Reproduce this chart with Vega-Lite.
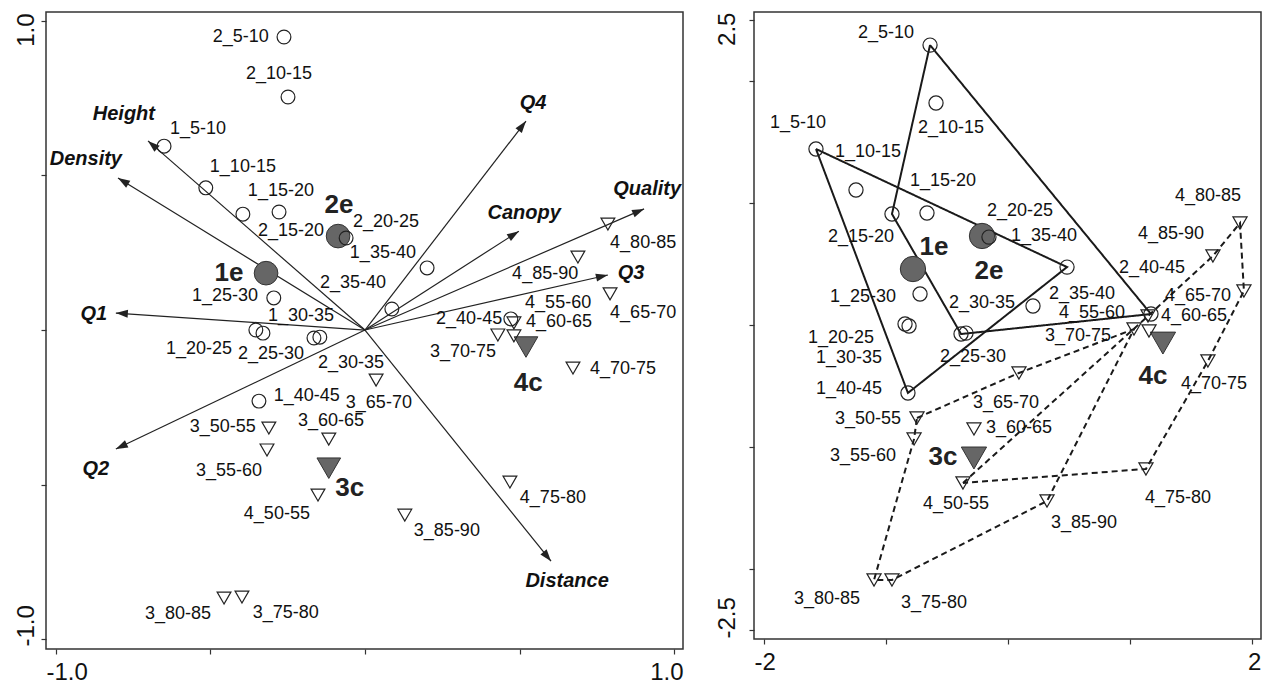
{
  "$schema": "https://vega.github.io/schema/vega-lite/v6.json",
  "background": "white",
  "padding": {"left": 13, "top": 11, "right": 2, "bottom": 2},
  "bounds": "flush",
  "spacing": 71,
  "config": {
    "font": "Liberation Sans",
    "view": {"stroke": "#333", "strokeWidth": 1.5},
    "axis": {"grid": false, "domain": false, "tickColor": "#333", "tickSize": 5, "tickWidth": 1.2, "labelColor": "#111", "labelFontSize": 24, "labelFont": "Liberation Sans"}
  },
  "datasets": {
    "arrows": [
      {"var": "Height", "x": -0.702, "y": 0.612, "lx": -0.780, "ly": 0.699},
      {"var": "Density", "x": -0.799, "y": 0.492, "lx": -0.903, "ly": 0.553},
      {"var": "Q1", "x": -0.806, "y": 0.055, "lx": -0.877, "ly": 0.052},
      {"var": "Q2", "x": -0.806, "y": -0.385, "lx": -0.871, "ly": -0.450},
      {"var": "Q4", "x": 0.521, "y": 0.676, "lx": 0.544, "ly": 0.735},
      {"var": "Canopy", "x": 0.498, "y": 0.320, "lx": 0.515, "ly": 0.379},
      {"var": "Quality", "x": 0.903, "y": 0.392, "lx": 0.913, "ly": 0.456},
      {"var": "Q3", "x": 0.786, "y": 0.178, "lx": 0.861, "ly": 0.184},
      {"var": "Distance", "x": 0.602, "y": -0.748, "lx": 0.654, "ly": -0.812}
    ],
    "lpts": [
      {"name": "2_5-10", "zone": "e", "x": -0.262, "y": 0.948, "lx": -0.402, "ly": 0.948},
      {"name": "2_10-15", "zone": "e", "x": -0.249, "y": 0.754, "lx": -0.278, "ly": 0.828},
      {"name": "1_5-10", "zone": "e", "x": -0.650, "y": 0.595, "lx": -0.540, "ly": 0.650},
      {"name": "1_10-15", "zone": "e", "x": -0.515, "y": 0.460, "lx": -0.395, "ly": 0.528},
      {"name": "2_15-20", "zone": "e", "x": -0.395, "y": 0.375, "lx": -0.239, "ly": 0.320},
      {"name": "1_15-20", "zone": "e", "x": -0.278, "y": 0.382, "lx": -0.272, "ly": 0.450},
      {"name": "2_20-25", "zone": "e", "x": -0.061, "y": 0.298, "lx": 0.068, "ly": 0.350},
      {"name": "1_35-40", "zone": "e", "x": 0.201, "y": 0.201, "lx": 0.058, "ly": 0.249},
      {"name": "2_35-40", "zone": "e", "x": 0.087, "y": 0.068, "lx": -0.039, "ly": 0.152},
      {"name": "1_25-30", "zone": "e", "x": -0.295, "y": 0.104, "lx": -0.453, "ly": 0.110},
      {"name": "1_20-25", "zone": "e", "x": -0.353, "y": 0.000, "lx": -0.537, "ly": -0.061},
      {"name": "1_30-35", "zone": "e", "x": -0.330, "y": -0.010, "lx": -0.207, "ly": 0.045},
      {"name": "2_25-30", "zone": "e", "x": -0.165, "y": -0.026, "lx": -0.304, "ly": -0.078},
      {"name": "2_30-35", "zone": "e", "x": -0.146, "y": -0.023, "lx": -0.045, "ly": -0.107},
      {"name": "1_40-45", "zone": "e", "x": -0.343, "y": -0.230, "lx": -0.188, "ly": -0.214},
      {"name": "2_40-45", "zone": "e", "x": 0.472, "y": 0.036, "lx": 0.337, "ly": 0.036},
      {"name": "3_50-55", "zone": "c", "x": -0.311, "y": -0.317, "lx": -0.460, "ly": -0.314},
      {"name": "3_55-60", "zone": "c", "x": -0.317, "y": -0.388, "lx": -0.440, "ly": -0.456},
      {"name": "3_60-65", "zone": "c", "x": -0.117, "y": -0.353, "lx": -0.110, "ly": -0.295},
      {"name": "3_65-70", "zone": "c", "x": 0.036, "y": -0.162, "lx": 0.045, "ly": -0.236},
      {"name": "3_70-75", "zone": "c", "x": 0.430, "y": -0.016, "lx": 0.317, "ly": -0.071},
      {"name": "3_75-80", "zone": "c", "x": -0.398, "y": -0.864, "lx": -0.256, "ly": -0.916},
      {"name": "3_80-85", "zone": "c", "x": -0.456, "y": -0.867, "lx": -0.605, "ly": -0.919},
      {"name": "3_85-90", "zone": "c", "x": 0.129, "y": -0.599, "lx": 0.265, "ly": -0.650},
      {"name": "4_50-55", "zone": "c", "x": -0.152, "y": -0.534, "lx": -0.285, "ly": -0.595},
      {"name": "4_55-60", "zone": "c", "x": 0.482, "y": 0.023, "lx": 0.625, "ly": 0.087},
      {"name": "4_60-65", "zone": "c", "x": 0.482, "y": -0.019, "lx": 0.628, "ly": 0.026},
      {"name": "4_65-70", "zone": "c", "x": 0.793, "y": 0.117, "lx": 0.900, "ly": 0.055},
      {"name": "4_70-75", "zone": "c", "x": 0.673, "y": -0.123, "lx": 0.835, "ly": -0.126},
      {"name": "4_75-80", "zone": "c", "x": 0.469, "y": -0.492, "lx": 0.608, "ly": -0.544},
      {"name": "4_80-85", "zone": "c", "x": 0.786, "y": 0.343, "lx": 0.900, "ly": 0.282},
      {"name": "4_85-90", "zone": "c", "x": 0.689, "y": 0.236, "lx": 0.583, "ly": 0.181}
    ],
    "lcent": [
      {"name": "1e", "zone": "e", "x": -0.320, "y": 0.184, "lx": -0.440, "ly": 0.184},
      {"name": "2e", "zone": "e", "x": -0.087, "y": 0.304, "lx": -0.084, "ly": 0.405},
      {"name": "3c", "zone": "c", "x": -0.117, "y": -0.447, "lx": -0.049, "ly": -0.511},
      {"name": "4c", "zone": "c", "x": 0.521, "y": -0.055, "lx": 0.528, "ly": -0.172}
    ],
    "rpts": [
      {"name": "1_5-10", "zone": "e", "x": -1.574, "y": 1.443, "lx": -1.721, "ly": 1.656},
      {"name": "1_10-15", "zone": "e", "x": -1.246, "y": 1.107, "lx": -1.148, "ly": 1.418},
      {"name": "1_15-20", "zone": "e", "x": -0.664, "y": 0.918, "lx": -0.533, "ly": 1.180},
      {"name": "1_20-25", "zone": "e", "x": -0.844, "y": 0.008, "lx": -1.369, "ly": -0.107},
      {"name": "1_25-30", "zone": "e", "x": -0.721, "y": 0.254, "lx": -1.189, "ly": 0.230},
      {"name": "1_30-35", "zone": "e", "x": -0.811, "y": -0.008, "lx": -1.303, "ly": -0.270},
      {"name": "1_35-40", "zone": "e", "x": 0.484, "y": 0.475, "lx": 0.295, "ly": 0.730},
      {"name": "1_40-45", "zone": "e", "x": -0.820, "y": -0.557, "lx": -1.303, "ly": -0.525},
      {"name": "2_5-10", "zone": "e", "x": -0.639, "y": 2.295, "lx": -1.000, "ly": 2.393},
      {"name": "2_10-15", "zone": "e", "x": -0.590, "y": 1.820, "lx": -0.467, "ly": 1.615},
      {"name": "2_15-20", "zone": "e", "x": -0.951, "y": 0.910, "lx": -1.205, "ly": 0.721},
      {"name": "2_20-25", "zone": "e", "x": -0.156, "y": 0.721, "lx": 0.098, "ly": 0.934},
      {"name": "2_25-30", "zone": "e", "x": -0.385, "y": -0.074, "lx": -0.287, "ly": -0.262},
      {"name": "2_30-35", "zone": "e", "x": -0.344, "y": -0.066, "lx": -0.213, "ly": 0.180},
      {"name": "2_35-40", "zone": "e", "x": 0.205, "y": 0.156, "lx": 0.607, "ly": 0.254},
      {"name": "2_40-45", "zone": "e", "x": 1.172, "y": 0.090, "lx": 1.180, "ly": 0.467},
      {"name": "3_50-55", "zone": "c", "x": -0.746, "y": -0.762, "lx": -1.148, "ly": -0.770},
      {"name": "3_55-60", "zone": "c", "x": -0.770, "y": -0.934, "lx": -1.189, "ly": -1.074},
      {"name": "3_60-65", "zone": "c", "x": -0.279, "y": -0.852, "lx": 0.090, "ly": -0.844},
      {"name": "3_65-70", "zone": "c", "x": 0.090, "y": -0.393, "lx": -0.016, "ly": -0.639},
      {"name": "3_70-75", "zone": "c", "x": 1.033, "y": -0.033, "lx": 0.574, "ly": -0.090},
      {"name": "3_75-80", "zone": "c", "x": -0.951, "y": -2.090, "lx": -0.607, "ly": -2.279},
      {"name": "3_80-85", "zone": "c", "x": -1.098, "y": -2.090, "lx": -1.484, "ly": -2.246},
      {"name": "3_85-90", "zone": "c", "x": 0.320, "y": -1.443, "lx": 0.623, "ly": -1.623},
      {"name": "4_50-55", "zone": "c", "x": -0.369, "y": -1.295, "lx": -0.426, "ly": -1.467},
      {"name": "4_55-60", "zone": "c", "x": 1.156, "y": -0.049, "lx": 0.689, "ly": 0.098},
      {"name": "4_60-65", "zone": "c", "x": 1.148, "y": 0.074, "lx": 1.525, "ly": 0.074},
      {"name": "4_65-70", "zone": "c", "x": 1.934, "y": 0.279, "lx": 1.557, "ly": 0.238},
      {"name": "4_70-75", "zone": "c", "x": 1.639, "y": -0.295, "lx": 1.689, "ly": -0.484},
      {"name": "4_75-80", "zone": "c", "x": 1.131, "y": -1.180, "lx": 1.393, "ly": -1.418},
      {"name": "4_80-85", "zone": "c", "x": 1.902, "y": 0.836, "lx": 1.639, "ly": 1.057},
      {"name": "4_85-90", "zone": "c", "x": 1.680, "y": 0.566, "lx": 1.336, "ly": 0.746}
    ],
    "rcent": [
      {"name": "1e", "zone": "e", "x": -0.779, "y": 0.459, "lx": -0.607, "ly": 0.639},
      {"name": "2e", "zone": "e", "x": -0.213, "y": 0.730, "lx": -0.156, "ly": 0.443},
      {"name": "3c", "zone": "c", "x": -0.279, "y": -1.090, "lx": -0.533, "ly": -1.082},
      {"name": "4c", "zone": "c", "x": 1.270, "y": -0.148, "lx": 1.189, "ly": -0.418}
    ],
    "hulls": [
      {"hull": "1", "zone": "e", "k": 0, "name": "1_5-10"},
      {"hull": "1", "zone": "e", "k": 1, "name": "1_35-40"},
      {"hull": "1", "zone": "e", "k": 2, "name": "1_40-45"},
      {"hull": "1", "zone": "e", "k": 3, "name": "1_5-10"},
      {"hull": "2", "zone": "e", "k": 0, "name": "2_5-10"},
      {"hull": "2", "zone": "e", "k": 1, "name": "2_40-45"},
      {"hull": "2", "zone": "e", "k": 2, "name": "2_25-30"},
      {"hull": "2", "zone": "e", "k": 3, "name": "2_15-20"},
      {"hull": "2", "zone": "e", "k": 4, "name": "2_5-10"},
      {"hull": "3", "zone": "c", "k": 0, "name": "3_50-55"},
      {"hull": "3", "zone": "c", "k": 1, "name": "3_65-70"},
      {"hull": "3", "zone": "c", "k": 2, "name": "3_70-75"},
      {"hull": "3", "zone": "c", "k": 3, "name": "3_85-90"},
      {"hull": "3", "zone": "c", "k": 4, "name": "3_75-80"},
      {"hull": "3", "zone": "c", "k": 5, "name": "3_80-85"},
      {"hull": "3", "zone": "c", "k": 6, "name": "3_55-60"},
      {"hull": "3", "zone": "c", "k": 7, "name": "3_50-55"},
      {"hull": "4", "zone": "c", "k": 0, "name": "4_50-55"},
      {"hull": "4", "zone": "c", "k": 1, "name": "4_60-65"},
      {"hull": "4", "zone": "c", "k": 2, "name": "4_85-90"},
      {"hull": "4", "zone": "c", "k": 3, "name": "4_80-85"},
      {"hull": "4", "zone": "c", "k": 4, "name": "4_65-70"},
      {"hull": "4", "zone": "c", "k": 5, "name": "4_70-75"},
      {"hull": "4", "zone": "c", "k": 6, "name": "4_75-80"},
      {"hull": "4", "zone": "c", "k": 7, "name": "4_50-55"}
    ]
  },
  "hconcat": [
    {
      "width": 637,
      "height": 637,
      "layer": [
        {
          "mark": {"type": "rule", "stroke": "#888", "strokeWidth": 0.8, "strokeDash": [2, 2]},
          "encoding": {
            "x": {"datum": 0, "type": "quantitative", "scale": {"domain": [-1.032, 1.029], "nice": false, "zero": false},
              "axis": {"title": null, "values": [-1, -0.5, 0, 0.5, 1], "labelExpr": "datum.value == -1 ? '-1.0' : datum.value == 1 ? '1.0' : ''", "labelFlush": false, "labelAlign": {"condition": {"test": "datum.value < 0", "value": "left"}, "value": "right"}, "labelOffset": {"condition": {"test": "datum.value < 0", "value": -10}, "value": 9}, "labelPadding": 6}}
          }
        },
        {
          "mark": {"type": "rule", "stroke": "#888", "strokeWidth": 0.8, "strokeDash": [2, 2]},
          "encoding": {
            "y": {"datum": 0, "type": "quantitative", "scale": {"domain": [-1.032, 1.029], "nice": false, "zero": false},
              "axis": {"title": null, "values": [-1, -0.5, 0, 0.5, 1], "labelExpr": "datum.value == -1 ? '-1.0' : datum.value == 1 ? '1.0' : ''", "labelAngle": -90, "labelBaseline": "bottom", "labelAlign": {"condition": {"test": "datum.value > 0", "value": "right"}, "value": "left"}, "labelOffset": {"condition": {"test": "datum.value > 0", "value": -8}, "value": 7}, "labelPadding": 3}}
          }
        },
        {
          "data": {"name": "arrows"},
          "mark": {"type": "rule", "stroke": "#222", "strokeWidth": 1.2},
          "encoding": {
            "x": {"field": "x", "type": "quantitative", "axis": {"title": null}},
            "y": {"field": "y", "type": "quantitative", "axis": {"title": null}},
            "x2": {"datum": 0},
            "y2": {"datum": 0}
          }
        },
        {
          "data": {"name": "arrows"},
          "transform": [{"calculate": "atan2(datum.x, datum.y) * 180 / PI", "as": "ang"}],
          "mark": {"type": "point", "shape": "M0,0L-0.5,1.5L0.5,1.5Z", "filled": true, "color": "#222", "size": 256, "opacity": 1},
          "encoding": {
            "x": {"field": "x", "type": "quantitative", "axis": {"title": null}},
            "y": {"field": "y", "type": "quantitative", "axis": {"title": null}},
            "angle": {"field": "ang", "type": "quantitative", "scale": null}
          }
        },
        {
          "data": {"name": "arrows"},
          "mark": {"type": "text", "fontSize": 20, "fontWeight": "bold", "fontStyle": "italic", "color": "#111", "align": "center", "baseline": "middle"},
          "encoding": {
            "x": {"field": "lx", "type": "quantitative", "axis": {"title": null}},
            "y": {"field": "ly", "type": "quantitative", "axis": {"title": null}},
            "text": {"field": "var"}
          }
        },
        {
          "data": {"name": "lcent"},
          "mark": {"type": "point", "filled": true, "fill": "#666", "stroke": "#333", "strokeWidth": 1, "size": 560, "opacity": 1},
          "encoding": {
            "x": {"field": "x", "type": "quantitative", "axis": {"title": null}},
            "y": {"field": "y", "type": "quantitative", "axis": {"title": null}},
            "shape": {"field": "zone", "type": "nominal", "scale": {"domain": ["e", "c"], "range": ["circle", "triangle-down"]}, "legend": null}
          }
        },
        {
          "data": {"name": "lpts"},
          "mark": {"type": "point", "filled": false, "stroke": "#222", "strokeWidth": 1.2, "size": 190, "opacity": 1},
          "encoding": {
            "x": {"field": "x", "type": "quantitative", "axis": {"title": null}},
            "y": {"field": "y", "type": "quantitative", "axis": {"title": null}},
            "shape": {"field": "zone", "type": "nominal", "scale": {"domain": ["e", "c"], "range": ["circle", "triangle-down"]}, "legend": null}
          }
        },
        {
          "data": {"name": "lpts"},
          "mark": {"type": "text", "fontSize": 18, "color": "#111", "align": "center", "baseline": "middle"},
          "encoding": {
            "x": {"field": "lx", "type": "quantitative", "axis": {"title": null}},
            "y": {"field": "ly", "type": "quantitative", "axis": {"title": null}},
            "text": {"field": "name"}
          }
        },
        {
          "data": {"name": "lcent"},
          "mark": {"type": "text", "fontSize": 26, "fontWeight": "bold", "color": "#222", "align": "center", "baseline": "middle"},
          "encoding": {
            "x": {"field": "lx", "type": "quantitative", "axis": {"title": null}},
            "y": {"field": "ly", "type": "quantitative", "axis": {"title": null}},
            "text": {"field": "name"}
          }
        }
      ]
    },
    {
      "width": 507,
      "height": 627,
      "layer": [
        {
          "mark": {"type": "rule", "stroke": "#aaa", "strokeWidth": 0.8, "strokeDash": [2, 2]},
          "encoding": {
            "x": {"datum": 0, "type": "quantitative", "scale": {"domain": [-2.082, 2.074], "nice": false, "zero": false},
              "axis": {"title": null, "values": [-2, -1, 0, 1, 2], "labelExpr": "datum.value == -2 ? '-2' : datum.value == 2 ? '2' : ''", "labelFlush": false, "labelAlign": {"condition": {"test": "datum.value < 0", "value": "left"}, "value": "right"}, "labelOffset": {"condition": {"test": "datum.value < 0", "value": -10}, "value": 9}, "labelPadding": 6}}
          }
        },
        {
          "mark": {"type": "rule", "stroke": "#aaa", "strokeWidth": 0.8, "strokeDash": [2, 2]},
          "encoding": {
            "y": {"datum": 0, "type": "quantitative", "scale": {"domain": [-2.574, 2.566], "nice": false, "zero": false},
              "axis": {"title": null, "values": [-2.5, -2, -1, 0, 1, 2, 2.5], "labelExpr": "datum.value == 2.5 ? '2.5' : datum.value == -2.5 ? '-2.5' : ''", "labelAngle": -90, "labelBaseline": "bottom", "labelAlign": {"condition": {"test": "datum.value > 0", "value": "right"}, "value": "left"}, "labelOffset": {"condition": {"test": "datum.value > 0", "value": -8}, "value": 8}, "labelPadding": 10}}
          }
        },
        {
          "data": {"name": "hulls"},
          "transform": [{"lookup": "name", "from": {"data": {"name": "rpts"}, "key": "name", "fields": ["x", "y"]}}],
          "mark": {"type": "line", "color": "#1a1a1a", "strokeWidth": 2},
          "encoding": {
            "x": {"field": "x", "type": "quantitative", "axis": {"title": null}},
            "y": {"field": "y", "type": "quantitative", "axis": {"title": null}},
            "order": {"field": "k", "type": "quantitative"},
            "detail": {"field": "hull"},
            "strokeDash": {"field": "zone", "type": "nominal", "scale": {"domain": ["e", "c"], "range": [[1, 0], [6, 4]]}, "legend": null}
          }
        },
        {
          "data": {"name": "rcent"},
          "mark": {"type": "point", "filled": true, "fill": "#666", "stroke": "#333", "strokeWidth": 1, "size": 640, "opacity": 1},
          "encoding": {
            "x": {"field": "x", "type": "quantitative", "axis": {"title": null}},
            "y": {"field": "y", "type": "quantitative", "axis": {"title": null}},
            "shape": {"field": "zone", "type": "nominal", "scale": {"domain": ["e", "c"], "range": ["circle", "triangle-down"]}, "legend": null}
          }
        },
        {
          "data": {"name": "rpts"},
          "mark": {"type": "point", "filled": false, "stroke": "#222", "strokeWidth": 1.2, "size": 200, "opacity": 1},
          "encoding": {
            "x": {"field": "x", "type": "quantitative", "axis": {"title": null}},
            "y": {"field": "y", "type": "quantitative", "axis": {"title": null}},
            "shape": {"field": "zone", "type": "nominal", "scale": {"domain": ["e", "c"], "range": ["circle", "triangle-down"]}, "legend": null}
          }
        },
        {
          "data": {"name": "rpts"},
          "mark": {"type": "text", "fontSize": 18, "color": "#111", "align": "center", "baseline": "middle"},
          "encoding": {
            "x": {"field": "lx", "type": "quantitative", "axis": {"title": null}},
            "y": {"field": "ly", "type": "quantitative", "axis": {"title": null}},
            "text": {"field": "name"}
          }
        },
        {
          "data": {"name": "rcent"},
          "mark": {"type": "text", "fontSize": 26, "fontWeight": "bold", "color": "#222", "align": "center", "baseline": "middle"},
          "encoding": {
            "x": {"field": "lx", "type": "quantitative", "axis": {"title": null}},
            "y": {"field": "ly", "type": "quantitative", "axis": {"title": null}},
            "text": {"field": "name"}
          }
        }
      ]
    }
  ]
}
